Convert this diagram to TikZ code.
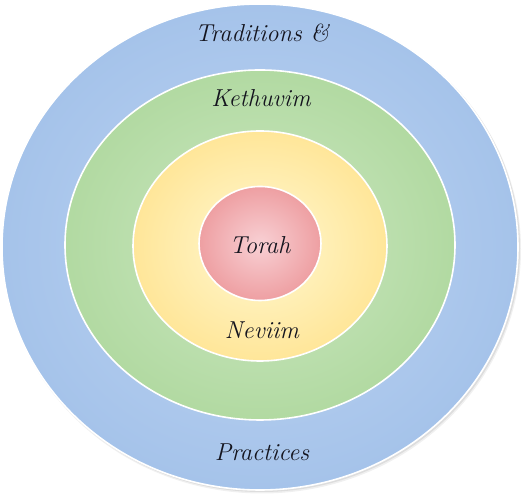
\documentclass[tikz,border=0pt]{standalone}
\usetikzlibrary{shapes.geometric}
\definecolor{blueIn}{RGB}{190,212,242}
\definecolor{blueOut}{RGB}{140,178,226}
\definecolor{greenIn}{RGB}{205,232,195}
\definecolor{greenOut}{RGB}{150,203,128}
\definecolor{yellowIn}{RGB}{255,248,210}
\definecolor{yellowOut}{RGB}{255,212,96}
\definecolor{redIn}{RGB}{248,208,212}
\definecolor{redOut}{RGB}{228,110,112}
\definecolor{txt}{RGB}{20,20,30}
\pgfdeclareradialshading{blueshade}{\pgfpoint{0bp}{0bp}}{color(0bp)=(blueIn); color(50bp)=(blueOut)}
\pgfdeclareradialshading{greenshade}{\pgfpoint{0bp}{0bp}}{color(0bp)=(greenIn); color(50bp)=(greenOut)}
\pgfdeclareradialshading{yellowshade}{\pgfpoint{0bp}{0bp}}{color(0bp)=(yellowIn); color(50bp)=(yellowOut)}
\pgfdeclareradialshading{redshade}{\pgfpoint{0bp}{0bp}}{color(0bp)=(redIn); color(50bp)=(redOut)}
\begin{document}
\begin{tikzpicture}[x=1pt,y=1pt,
  ring/.style={draw=white, line width=1.6pt},
  lbl/.style={text=txt, font=\fontsize{24.5}{28}\selectfont\itshape, inner sep=0pt}]
\useasboundingbox (0,0) rectangle (523,494);
\fill[white] (0,0) rectangle (523,494);
% shadow
\fill[black, opacity=0.06] (262,244.5) ellipse [x radius=259, y radius=244];
\fill[black, opacity=0.08] (261.5,245.5) ellipse [x radius=258.5, y radius=243.5];
% rings
\path[ring, shading=blueshade] (260,247) ellipse [x radius=258, y radius=243];
\path[ring, shading=greenshade] (260,249) ellipse [x radius=195, y radius=175];
\path[ring, shading=yellowshade] (260,248) ellipse [x radius=127, y radius=115];
\path[ring, shading=redshade] (260,250.5) ellipse [x radius=61, y radius=57];
% labels
\node[lbl] (trad) at (262,461) {Traditions \&};
\node[lbl] (keth) at (261,396) {Kethuvim};
\node[lbl] (torah) at (260,249) {Torah};
\node[lbl] (nev) at (262,164) {Neviim};
\node[lbl] (prac) at (262,42) {Practices};
\end{tikzpicture}
\end{document}
